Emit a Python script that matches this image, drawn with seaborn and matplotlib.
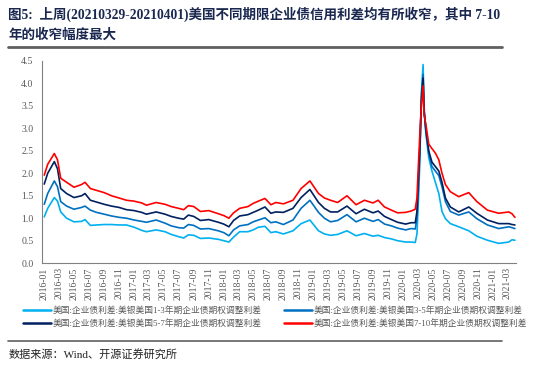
import pandas as pd
import matplotlib
matplotlib.use("Agg")
import matplotlib.pyplot as plt
import matplotlib.dates as mdates
from matplotlib.lines import Line2D
import seaborn as sns

DATES = [
    "2016-01-01", "2016-01-15", "2016-02-11", "2016-02-24", "2016-03-08",
    "2016-04-01", "2016-05-01", "2016-06-01", "2016-06-15", "2016-07-07",
    "2016-08-01", "2016-09-01", "2016-10-01", "2016-11-01", "2016-12-01",
    "2017-01-01", "2017-02-01", "2017-02-20", "2017-04-01", "2017-05-07",
    "2017-06-01", "2017-07-01", "2017-07-22", "2017-08-10", "2017-09-01",
    "2017-09-28", "2017-11-01", "2017-12-10", "2018-01-01", "2018-01-22",
    "2018-02-10", "2018-03-07", "2018-04-10", "2018-05-01", "2018-05-22",
    "2018-06-18", "2018-07-12", "2018-08-01", "2018-09-01", "2018-10-10",
    "2018-11-12", "2018-12-18", "2019-01-22", "2019-02-15", "2019-03-12",
    "2019-04-10", "2019-05-18", "2019-06-24", "2019-07-28", "2019-09-01",
    "2019-09-22", "2019-10-18", "2019-11-15", "2019-12-10", "2020-01-12",
    "2020-02-03", "2020-02-20", "2020-02-27", "2020-03-04", "2020-03-10",
    "2020-03-16", "2020-03-23", "2020-03-27", "2020-04-03", "2020-04-15",
    "2020-04-28", "2020-05-12", "2020-05-26", "2020-06-08", "2020-06-22",
    "2020-07-12", "2020-08-15", "2020-09-25", "2020-10-28", "2020-12-10",
    "2021-01-25", "2021-03-07", "2021-03-20", "2021-04-01",
]

# 美银美国 1-3 年期
OAS_1_3 = [
    1.03, 1.22, 1.46, 1.38, 1.14, 1.00, 0.92, 0.93, 0.97, 0.84,
    0.85, 0.86, 0.86, 0.85, 0.85, 0.80, 0.73, 0.70, 0.74, 0.70,
    0.64, 0.59, 0.56, 0.63, 0.62, 0.55, 0.56, 0.53, 0.50, 0.47,
    0.58, 0.70, 0.70, 0.74, 0.80, 0.82, 0.68, 0.70, 0.65, 0.72,
    0.88, 0.96, 0.72, 0.65, 0.62, 0.64, 0.72, 0.61, 0.66, 0.60,
    0.62, 0.57, 0.54, 0.50, 0.47, 0.47, 0.46, 0.65, 1.40, 2.30,
    3.80, 4.42, 3.50, 2.90, 2.35, 2.05, 1.80, 1.55, 1.15, 0.99,
    0.88, 0.81, 0.72, 0.60, 0.51, 0.44, 0.47, 0.52, 0.51,
]
# 3-5 年期
OAS_3_5 = [
    1.31, 1.55, 1.83, 1.70, 1.37, 1.27, 1.20, 1.24, 1.27, 1.18,
    1.13, 1.09, 1.05, 1.02, 1.00, 0.96, 0.93, 0.91, 0.96, 0.89,
    0.83, 0.79, 0.78, 0.86, 0.84, 0.76, 0.77, 0.72, 0.68, 0.61,
    0.74, 0.83, 0.86, 0.92, 0.96, 1.01, 0.90, 0.92, 0.86, 0.96,
    1.22, 1.40, 1.13, 1.00, 0.92, 0.95, 1.08, 0.92, 1.00, 0.93,
    0.97, 0.87, 0.83, 0.78, 0.74, 0.77, 0.76, 1.00, 1.70, 2.50,
    3.70, 4.20, 3.40, 2.95, 2.45, 2.15, 2.05, 1.95, 1.70, 1.37,
    1.15, 1.07, 1.14, 0.99, 0.85, 0.77, 0.81, 0.79, 0.77,
]
# 5-7 年期
OAS_5_7 = [
    1.76, 2.00, 2.26, 2.10, 1.66, 1.55, 1.46, 1.50, 1.55, 1.40,
    1.36, 1.31, 1.27, 1.24, 1.19, 1.17, 1.13, 1.09, 1.14, 1.09,
    1.04, 1.00, 0.98, 1.07, 1.04, 0.95, 0.97, 0.91, 0.87, 0.81,
    0.95, 1.05, 1.08, 1.13, 1.18, 1.25, 1.11, 1.14, 1.13, 1.22,
    1.46, 1.64, 1.35, 1.22, 1.14, 1.14, 1.27, 1.10, 1.20, 1.12,
    1.16, 1.04, 0.97, 0.91, 0.87, 0.90, 0.90, 1.15, 1.90, 2.60,
    3.60, 4.12, 3.40, 3.00, 2.50, 2.25, 2.15, 2.05, 1.80, 1.45,
    1.25, 1.14, 1.25, 1.11, 0.96, 0.88, 0.88, 0.86, 0.85,
]
# 7-10 年期
OAS_7_10 = [
    1.96, 2.20, 2.44, 2.30, 1.89, 1.80, 1.69, 1.75, 1.80, 1.66,
    1.62, 1.57, 1.50, 1.45, 1.40, 1.38, 1.34, 1.29, 1.35, 1.31,
    1.26, 1.22, 1.19, 1.28, 1.26, 1.15, 1.17, 1.10, 1.06, 1.00,
    1.12, 1.22, 1.26, 1.33, 1.38, 1.44, 1.30, 1.35, 1.32, 1.40,
    1.66, 1.83, 1.55, 1.45, 1.40, 1.35, 1.50, 1.30, 1.40, 1.34,
    1.40, 1.25, 1.18, 1.12, 1.13, 1.16, 1.20, 1.45, 2.20, 2.90,
    3.50, 3.95, 3.30, 3.10, 2.65, 2.55, 2.45, 2.30, 2.00, 1.75,
    1.59, 1.48, 1.57, 1.37, 1.18, 1.11, 1.14, 1.10, 1.02,
]

LABELS = [
    "美国:企业债利差:美银美国1-3年期企业债期权调整利差",
    "美国:企业债利差:美银美国3-5年期企业债期权调整利差",
    "美国:企业债利差:美银美国5-7年期企业债期权调整利差",
    "美国:企业债利差:美银美国7-10年期企业债期权调整利差",
]
COLORS = ["#00B0F0", "#0070C0", "#002060", "#FF0000"]

TITLE_1 = "图5:  上周(20210329-20210401)美国不同期限企业债信用利差均有所收窄，其中 7-10"
TITLE_2 = "年的收窄幅度最大"
SOURCE = "数据来源：Wind、开源证券研究所"

sns.set_style("white")
plt.rcParams["font.family"] = ["Liberation Serif", "Noto Sans CJK SC", "DejaVu Sans"]

frames = []
for label, vals in zip(LABELS, [OAS_1_3, OAS_3_5, OAS_5_7, OAS_7_10]):
    frames.append(pd.DataFrame({"date": pd.to_datetime(DATES), "value": vals, "series": label}))
df = pd.concat(frames, ignore_index=True)

fig = plt.figure(figsize=(5.5, 3.65), dpi=100)
ax = fig.add_axes([0.076, 0.279, 0.862, 0.554])

sns.lineplot(data=df, x="date", y="value", hue="series", hue_order=LABELS,
             palette=COLORS, linewidth=1.2, legend=False, ax=ax)

ax.set_xlim(pd.Timestamp("2015-12-22"), pd.Timestamp("2021-04-05"))
ax.set_ylim(0, 4.5)
ax.set_yticks([i * 0.5 for i in range(10)])
ax.yaxis.set_major_formatter(plt.FormatStrFormatter("%.1f"))
ax.xaxis.set_major_locator(mdates.MonthLocator(bymonth=[1, 3, 5, 7, 9, 11]))
ax.xaxis.set_major_formatter(mdates.DateFormatter("%Y-%m"))
ax.set_xlabel("")
ax.set_ylabel("")
ax.tick_params(axis="x", labelrotation=90, labelsize=7, colors="#595959",
               direction="in", length=3, width=0.6, pad=3)
ax.tick_params(axis="y", labelsize=7, colors="#595959",
               direction="in", length=3, width=0.6, pad=6)
for side in ["top", "right"]:
    ax.spines[side].set_visible(False)
for side in ["left", "bottom"]:
    ax.spines[side].set_color("#808080")
    ax.spines[side].set_linewidth(0.8)

# legend: two rows x two columns below the plot
handles = [Line2D([0], [0], color=c, lw=1.8) for c in COLORS]
order = [0, 2, 1, 3]
fig.legend([handles[i] for i in order], [LABELS[i] for i in order],
           loc="center", bbox_to_anchor=(0.5, 0.131), ncol=2, frameon=False,
           fontsize=6.3, handlelength=3.2, handletextpad=0.2,
           columnspacing=2.6, labelspacing=0.45, labelcolor="#595959")

title_kw = dict(fontsize=9.75, fontweight="bold", color="#1a2850")
fig.text(0.015, 0.962, TITLE_1, va="center", ha="left", **title_kw)
fig.text(0.015, 0.905, TITLE_2, va="center", ha="left", **title_kw)
fig.add_artist(Line2D([0.015, 0.913], [0.872, 0.872], color="#606060", lw=2,
                      transform=fig.transFigure))
fig.add_artist(Line2D([0.015, 0.913], [0.066, 0.066], color="#606060", lw=1.2,
                      transform=fig.transFigure))
fig.text(0.015, 0.03, SOURCE, va="center", ha="left", fontsize=8, color="#222222")

fig.savefig("out.png", dpi=100)
plt.close(fig)
